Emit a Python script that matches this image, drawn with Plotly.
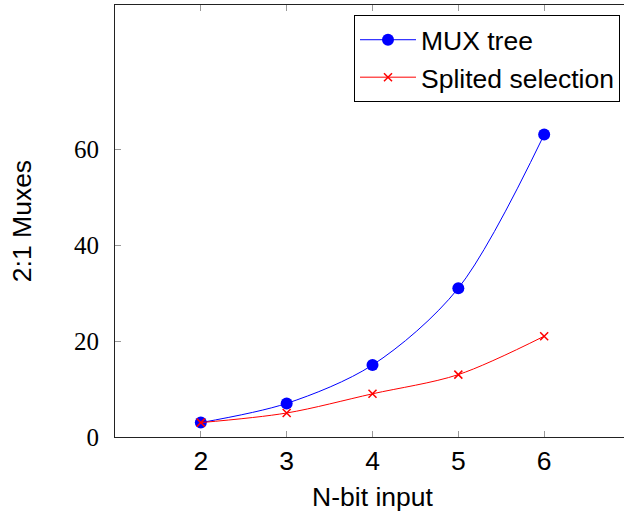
import plotly.graph_objects as go

n_bits = [2, 3, 4, 5, 6]
mux_tree = [3, 7, 15, 31, 63]
splited = [3, 5, 9, 13, 21]
x_ticks = [2, 3, 4, 5, 6]
y_ticks = [0, 20, 40, 60]

W, H = 630, 513
ml, mr, mt, mb = 115, 0, 5, 76
SANS = "Liberation Sans, Arial, sans-serif"
FS = 26.5

fig = go.Figure()
fig.add_trace(go.Scatter(
    x=n_bits, y=mux_tree, name="MUX tree", mode="lines+markers",
    line=dict(color="#0000ff", width=1, shape="spline", smoothing=0.9),
    marker=dict(symbol="circle", size=12, color="#0000ff"),
))
fig.add_trace(go.Scatter(
    x=n_bits, y=splited, name="Splited selection", mode="lines+markers",
    line=dict(color="#ff0000", width=1, shape="spline", smoothing=0.9),
    marker=dict(symbol="x-thin", size=8, color="#ff0000",
                line=dict(color="#ff0000", width=1.5)),
))

pw = W - ml - mr
ph = H - mt - mb
fig.update_layout(
    width=W, height=H,
    margin=dict(l=ml, r=mr, t=mt, b=mb, pad=0, autoexpand=False),
    paper_bgcolor="white", plot_bgcolor="white",
    font=dict(family=SANS, size=FS, color="black"),
    showlegend=True,
    legend=dict(
        x=(620 - ml) / pw, y=(437 - 15) / ph, xanchor="right", yanchor="top",
        bgcolor="white", bordercolor="black", borderwidth=1,
        font=dict(family=SANS, size=FS, color="black"),
        tracegroupgap=0, itemwidth=56,
    ),
    xaxis=dict(
        range=[1, 7], tickvals=x_ticks, ticktext=[str(v) for v in x_ticks],
        ticks="inside", ticklen=6, tickcolor="#999999", tickwidth=1,
        showline=True, linecolor="#222222", linewidth=1, mirror="ticks",
        showgrid=False, zeroline=False, automargin=False,
        tickfont=dict(family=SANS, size=FS),
        title=dict(text="N-bit input", standoff=12, font=dict(family=SANS, size=FS)),
    ),
    yaxis=dict(
        range=[0, 90], tickvals=y_ticks, ticktext=[str(v) for v in y_ticks],
        ticks="inside", ticklen=6, tickcolor="#999999", tickwidth=1,
        showline=True, linecolor="#222222", linewidth=1, mirror="ticks",
        showgrid=False, zeroline=False, automargin=False,
        tickfont=dict(family="'Liberation Serif', 'Times New Roman', serif", size=25),
        ticklabelstandoff=10,
        title=dict(text="2:1 Muxes", standoff=34, font=dict(family=SANS, size=FS)),
    ),
)

fig.write_html(
    "out.html",
    config={"displayModeBar": False},
    post_script="document.body.style.margin='0';document.body.style.overflow='hidden';"
                "document.documentElement.style.overflow='hidden';",
)
